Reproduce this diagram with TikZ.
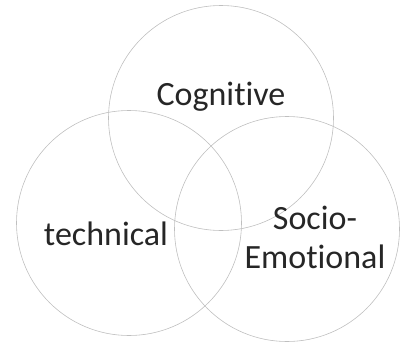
\documentclass[tikz,border=0pt]{standalone}
\usepackage{fontspec}
\setmainfont[Ligatures=NoCommon]{Carlito}
\usetikzlibrary{positioning}

\begin{document}
\begin{tikzpicture}[x=1pt,y=-1pt]
			\tikzstyle{ring}=[draw=gray!50,line width=0.6pt,shape=circle,minimum size=225pt,inner sep=0pt];
			\tikzstyle{lbl}=[font=\fontsize{34}{39}\selectfont,align=center,text=black!85];
			\useasboundingbox (0,0) rectangle (404,343);
			\node[ring] (cog) at (221,118) {};
			\node[ring] (tech) at (129,223) {};
			\node[ring] (socio) at (287,229) {};
			\node[lbl] (cogtext) at (221,97) {Cognitive};
			\node[lbl] (techtext) at (106,234) {technical};
			\node[lbl] (sociotext) at (315,237) {Socio-\\Emotional};
		\end{tikzpicture}
\end{document}
